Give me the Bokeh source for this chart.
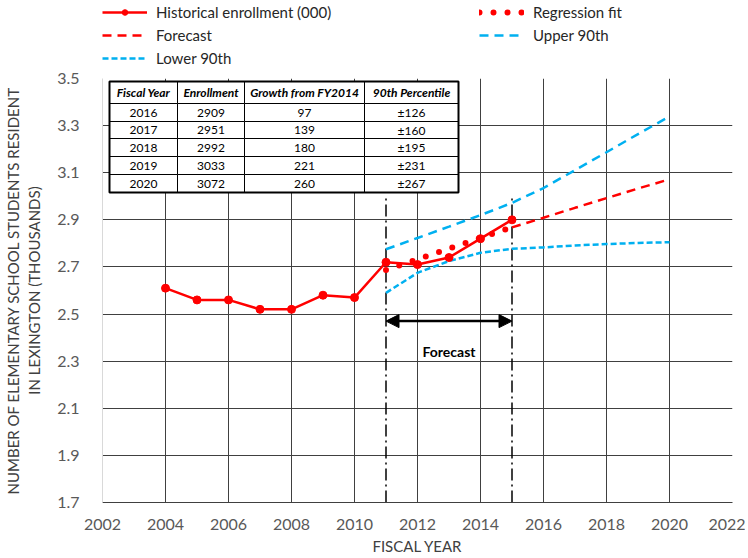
from bokeh.plotting import figure
from bokeh.layouts import column
from bokeh.models import Range1d, FixedTicker, Legend, LegendItem, Arrow, NormalHead, Label
from bokeh.core.properties import value
from bokeh.embed import file_html
from bokeh.resources import INLINE

# ---------------- data ----------------
hist_years = [2004, 2005, 2006, 2007, 2008, 2009, 2010, 2011, 2012, 2013, 2014, 2015]
hist_vals = [2.61, 2.56, 2.56, 2.52, 2.52, 2.58, 2.57, 2.72, 2.71, 2.74, 2.82, 2.90]

reg_years = [2011, 2015]
reg_vals = [2.687, 2.869]

fc_years = [2015, 2016, 2017, 2018, 2019, 2020]
fc_vals = [2.868, 2.909, 2.951, 2.992, 3.033, 3.072]

band_years = [2011, 2012, 2013, 2014, 2015, 2016, 2017, 2018, 2019, 2020]
upper_vals = [2.775, 2.823, 2.871, 2.920, 2.972, 3.035, 3.111, 3.187, 3.264, 3.339]
lower_vals = [2.590, 2.675, 2.725, 2.760, 2.777, 2.783, 2.791, 2.797, 2.802, 2.805]

window_years = [2011, 2015]
window_bottom = 1.7
window_top = 3.0
arrow_level = 2.47
arrow_text = "Forecast"

table_header = ["Fiscal Year", "Enrollment", "Growth from FY2014", "90th Percentile"]
table_years = ["2016", "2017", "2018", "2019", "2020"]
table_enroll = ["2909", "2951", "2992", "3033", "3072"]
table_growth = ["97", "139", "180", "221", "260"]
table_pct = ["\u00b1126", "\u00b1160", "\u00b1195", "\u00b1231", "\u00b1267"]

x_ticks = [2002, 2004, 2006, 2008, 2010, 2012, 2014, 2016, 2018, 2020, 2022]
y_ticks = [1.7, 1.9, 2.1, 2.3, 2.5, 2.7, 2.9, 3.1, 3.3, 3.5]
y_tick_labels = ["1.7", "1.9", "2.1", "2.3", "2.5", "2.7", "2.9", "3.1", "3.3", "3.5"]

RED = "#ff0000"
BLUE = "#00b0f0"
FONT = "Lato"

STYLE_UP = dict(line_color=BLUE, line_width=2.5, line_dash="9 6")
STYLE_LO = dict(line_color=BLUE, line_width=2.5, line_dash="6 3")
STYLE_FC = dict(line_color=RED, line_width=2.5, line_dash="9 6")
STYLE_REG = dict(line_color=RED, line_width=6, line_dash="0 14", line_cap="round")
STYLE_HL = dict(line_color=RED, line_width=2.5)
STYLE_HM = dict(size=8, marker="circle", fill_color=RED, line_color=RED)

# ---------------- main figure ----------------
p = figure(frame_width=630, frame_height=424, output_backend="svg", toolbar_location=None,
           x_range=Range1d(2002, 2022), y_range=Range1d(1.7, 3.5),
           min_border_left=101, min_border_right=13, min_border_top=11, min_border_bottom=54)
p.outline_line_color = None
p.background_fill_color = "white"

p.xaxis.ticker = FixedTicker(ticks=x_ticks)
p.yaxis.ticker = FixedTicker(ticks=y_ticks)
p.yaxis.major_label_overrides = {t: l for t, l in zip(y_ticks, y_tick_labels)}
for ax in (p.xaxis, p.yaxis):
    ax.major_tick_line_color = None
    ax.minor_tick_line_color = None
    ax.major_label_text_font = FONT
    ax.major_label_text_font_size = "16px"
    ax.major_label_text_color = "#595959"
    ax.axis_label_text_font = FONT
    ax.axis_label_text_font_style = "normal"
    ax.axis_label_text_color = "#404040"
p.xaxis.axis_label_text_font_size = "15px"
p.yaxis.axis_label_text_font_size = "15px"
p.yaxis.axis_line_color = "#d9d9d9"
p.xaxis.axis_line_color = "#404040"
p.xaxis.major_label_standoff = 10
p.yaxis.major_label_standoff = 17
p.xaxis.axis_label = "FISCAL YEAR"
p.xaxis.axis_label_standoff = 4
p.yaxis.axis_label = "NUMBER OF ELEMENTARY SCHOOL STUDENTS RESIDENT\nIN LEXINGTON (THOUSANDS)"
p.yaxis.axis_label_standoff = 11
p.xgrid.grid_line_color = "#404040"
p.ygrid.grid_line_color = "#404040"

# ---------------- table (positioned in pixel space of the frame) ----------------
FX0, FX1, FY0, FY1 = 101, 731, 78, 502  # page pixel of frame


def dx(px):
    return 2002 + (px - FX0) * 20.0 / (FX1 - FX0)


def dy(py):
    return 3.5 - (py - FY0) * 1.8 / (FY1 - FY0)


col_px = [108, 176, 243, 363, 457]
row_px = [81, 103, 121, 138, 156, 174, 192]
cl, cr, ct, cb = [], [], [], []
for i in range(len(row_px) - 1):
    for j in range(len(col_px) - 1):
        cl.append(dx(col_px[j])); cr.append(dx(col_px[j + 1]))
        ct.append(dy(row_px[i])); cb.append(dy(row_px[i + 1]))
p.quad(left=cl, right=cr, top=ct, bottom=cb, fill_color="white", line_color="black", line_width=1)
p.quad(left=[dx(col_px[0])], right=[dx(col_px[-1])], top=[dy(row_px[0])], bottom=[dy(row_px[-1])],
       fill_color=None, line_color="black", line_width=2)

cx = [(dx(col_px[j]) + dx(col_px[j + 1])) / 2 for j in range(4)]
cy = [(dy(row_px[i]) + dy(row_px[i + 1])) / 2 for i in range(6)]
p.text(x=cx, y=[cy[0]] * 4, text=table_header, text_align="center", text_baseline="middle",
       text_font=value(FONT), text_font_size="12px", text_font_style="bold italic", text_color="black")
body_x, body_y, body_t = [], [], []
for i in range(5):
    for j, col in enumerate([table_years, table_enroll, table_growth, table_pct]):
        body_x.append(cx[j]); body_y.append(cy[i + 1]); body_t.append(col[i])
p.text(x=body_x, y=body_y, text=body_t, text_align="center", text_baseline="middle",
       text_font=value(FONT), text_font_size="12px", text_color="black")

# ---------------- forecast window ----------------
p.segment(x0=window_years, y0=[window_bottom] * 2, x1=window_years, y1=[window_top] * 2,
          line_color="black", line_width=1.5, line_dash="12 4 2 4")
p.add_layout(Arrow(x_start=window_years[0], y_start=arrow_level, x_end=window_years[1], y_end=arrow_level,
                   line_color="black", line_width=2.5,
                   start=NormalHead(size=13, fill_color="black", line_color="black"),
                   end=NormalHead(size=13, fill_color="black", line_color="black")))
p.add_layout(Label(x=(window_years[0] + window_years[1]) / 2, y=2.343, text=arrow_text,
                   text_align="center", text_baseline="middle", text_font=FONT,
                   text_font_size="14px", text_font_style="bold", text_color="black"))

# ---------------- series ----------------
p.line(band_years, upper_vals, **STYLE_UP)
p.line(band_years, lower_vals, **STYLE_LO)
p.line(fc_years, fc_vals, **STYLE_FC)
p.line(reg_years, reg_vals, **STYLE_REG)
p.line(hist_years, hist_vals, **STYLE_HL)
p.scatter(hist_years, hist_vals, **STYLE_HM)

# ---------------- legend strip above the chart ----------------
lg = figure(width=744, height=67, output_backend="svg", toolbar_location=None,
            x_range=Range1d(0, 1), y_range=Range1d(0, 1),
            min_border=0, x_axis_location=None, y_axis_location=None)
lg.outline_line_color = None
lg.grid.visible = False
off = [-5, -4]  # keys drawn outside the strip's range; only their legend glyphs show
l_hl = lg.line(off, off, **STYLE_HL)
l_hm = lg.scatter(off, off, **STYLE_HM)
l_fc = lg.line(off, off, **STYLE_FC)
l_lo = lg.line(off, off, **STYLE_LO)
l_reg = lg.line(off, off, **STYLE_REG)
l_up = lg.line(off, off, **STYLE_UP)

legend = Legend(items=[
    LegendItem(label="Historical enrollment (000)", renderers=[l_hl, l_hm]),
    LegendItem(label="Forecast", renderers=[l_fc]),
    LegendItem(label="Lower 90th", renderers=[l_lo]),
    LegendItem(label="Regression fit", renderers=[l_reg]),
    LegendItem(label="Upper 90th", renderers=[l_up]),
], nrows=3, orientation="vertical")
legend.location = (0, 0)
legend.padding = 0
legend.margin = 0
legend.spacing = 5
legend.glyph_width = 45
legend.glyph_height = 14
legend.label_height = 14
legend.label_width = 318
legend.label_standoff = 9
legend.label_text_font = FONT
legend.label_text_font_size = "15px"
legend.label_text_color = "#262626"
legend.label_text_baseline = "middle"
legend.border_line_color = None
legend.background_fill_alpha = 0
lg.add_layout(legend)

layout = column(lg, p, spacing=0)
open("out.html", "w").write(file_html(layout, INLINE))
